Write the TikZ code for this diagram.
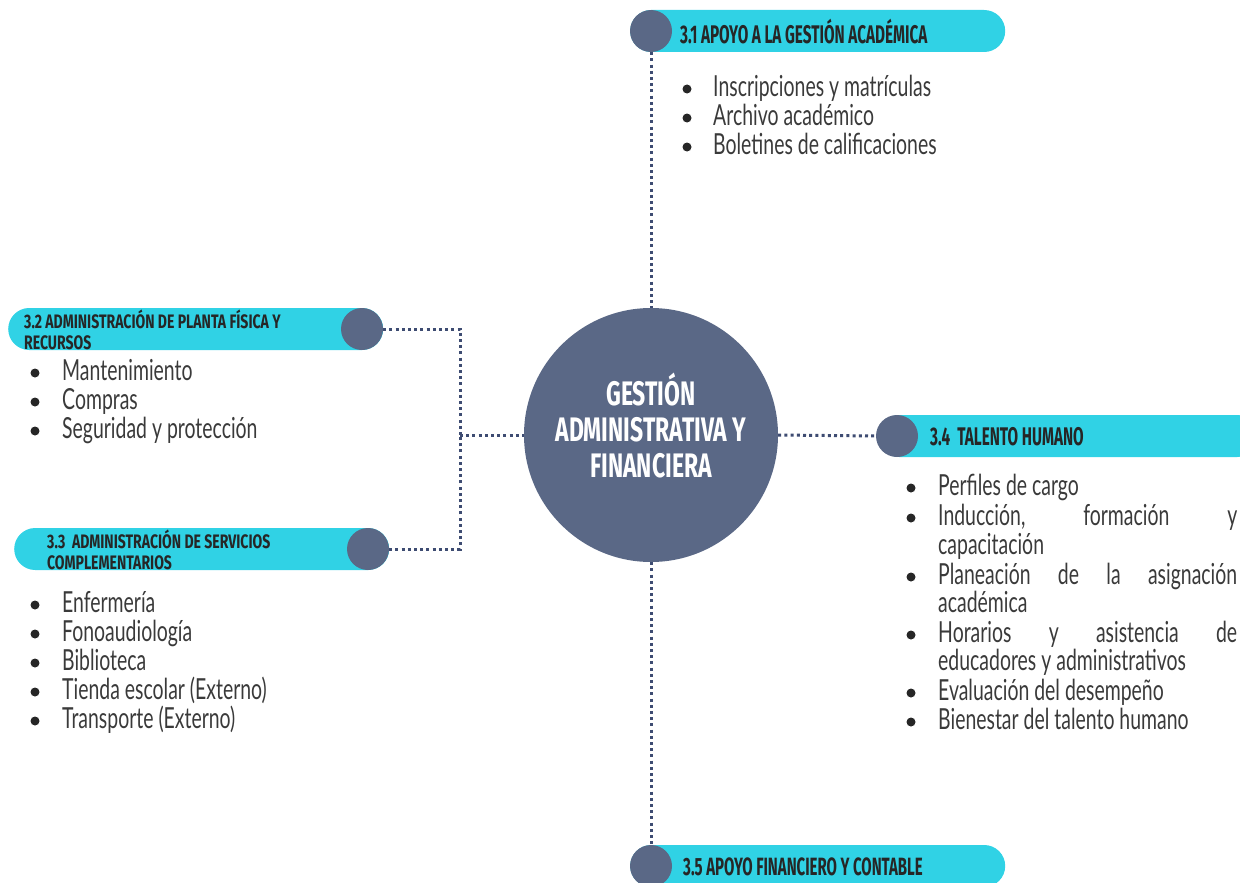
\documentclass[tikz,border=0pt]{standalone}
\usepackage{fontspec}
\setmainfont{Lato}
\newfontfamily\headfont[FakeStretch=0.60]{Fira Sans}
\newfontfamily\headtwofont[FakeStretch=0.72]{Fira Sans}
\newfontfamily\centfont[FakeStretch=0.675]{Fira Sans}
\newfontfamily\itemfont[FakeStretch=0.67]{Lato}
\definecolor{cyanb}{HTML}{30D2E5}
\definecolor{slate}{HTML}{5A6886}
\definecolor{dotc}{HTML}{3E4C72}
\definecolor{txt}{HTML}{3A3A3A}
\tikzset{
  pill/.style={fill=cyanb, rounded corners=21pt, minimum height=42pt, inner sep=0pt, anchor=west},
  knob/.style={circle, fill=slate, minimum size=42pt, inner sep=0pt},
  dots/.style={draw=dotc, line width=3pt, dash pattern=on 3pt off 3.2pt},
  head/.style={text=black!85, anchor=west, align=left, inner sep=0pt},
  headtwo/.style={head, font=\headtwofont\bfseries\fontsize{19.5}{21}\selectfont},
  item/.style={font=\itemfont\fontsize{29}{30}\selectfont, text=txt, anchor=base west, inner sep=0pt, yshift=-7.5pt},
  bul/.style={circle, fill=black!85, minimum size=9pt, inner sep=0pt}
}
\begin{document}
\begin{tikzpicture}[x=1pt,y=-1pt]
\useasboundingbox (0,0) rectangle (1240,883);
\clip (0,0) rectangle (1240,883);

% centre
\node[circle, fill=slate, minimum size=254pt, inner sep=0pt] (center) at (651,435) {};
\node[text=white, align=center, font=\centfont\bfseries\fontsize{34}{36}\selectfont] (ctext) at (651,426) {GESTIÓN\\ADMINISTRATIVA Y\\FINANCIERA};

% 3.1
\node[pill, minimum width=375pt] (p31) at (630,31) {};
\node[knob] (k31) at (651,31) {};
\node[head, font=\headfont\bfseries\fontsize{25.5}{26}\selectfont] (h31) at (680,32) {3.1 APOYO A LA GESTIÓN ACADÉMICA};
\node[bul] (b31a) at (687,89) {};
\node[bul] (b31b) at (687,118) {};
\node[bul] (b31c) at (687,147) {};
\node[item] (i31a) at (713,89) {Inscripciones y matrículas};
\node[item] (i31b) at (713,118) {Archivo académico};
\node[item] (i31c) at (713,147) {Boletines de calificaciones};

% 3.2
\node[pill, minimum width=375pt] (p32) at (8,329) {};
\node[knob] (k32) at (362,329) {};
\node[headtwo] (h32) at (24,330) {3.2 ADMINISTRACIÓN DE PLANTA FÍSICA Y\\RECURSOS};
\node[bul] (b32a) at (35,373) {};
\node[bul] (b32b) at (35,402) {};
\node[bul] (b32c) at (35,431) {};
\node[item] (i32a) at (62,373) {Mantenimiento};
\node[item] (i32b) at (62,402) {Compras};
\node[item] (i32c) at (62,431) {Seguridad y protección};

% 3.3
\node[pill, minimum width=375pt] (p33) at (14,549) {};
\node[knob] (k33) at (368,549) {};
\node[headtwo] (h33) at (47,550) {3.3\ \ ADMINISTRACIÓN DE SERVICIOS\\COMPLEMENTARIOS};
\node[bul] (b33a) at (35,605) {};
\node[bul] (b33b) at (35,634) {};
\node[bul] (b33c) at (35,663) {};
\node[bul] (b33d) at (35,692) {};
\node[bul] (b33e) at (35,721) {};
\node[item] (i33a) at (62,605) {Enfermería};
\node[item] (i33b) at (62,634) {Fonoaudiología};
\node[item] (i33c) at (62,663) {Biblioteca};
\node[item] (i33d) at (62,692) {Tienda escolar (Externo)};
\node[item] (i33e) at (62,721) {Transporte (Externo)};

% 3.4
\node[pill, minimum width=380pt] (p34) at (878,436) {};
\node[knob] (k34) at (897,436) {};
\node[head, font=\headfont\bfseries\fontsize{25.5}{26}\selectfont] (h34) at (930,437) {3.4\ \ TALENTO HUMANO};
\node[bul] (b34a) at (911,488) {};
\node[bul] (b34b) at (911,518) {};
\node[bul] (b34c) at (911,577) {};
\node[bul] (b34d) at (911,635) {};
\node[bul] (b34e) at (911,693) {};
\node[bul] (b34f) at (911,722) {};
\node[item] (i34a) at (938,488) {Perfiles de cargo};
\node[item] (i34b) at (938,518) {\hbox to 299pt{Inducción,\hfill formación\hfill y}};
\node[item] (i34b2) at (938,547) {capacitación};
\node[item] (i34c) at (938,577) {\hbox to 299pt{Planeación\hfill de\hfill la\hfill asignación}};
\node[item] (i34c2) at (938,605) {académica};
\node[item] (i34d) at (938,635) {\hbox to 299pt{Horarios\hfill y\hfill asistencia\hfill de}};
\node[item] (i34d2) at (938,663) {educadores y administrativos};
\node[item] (i34e) at (938,693) {Evaluación del desempeño};
\node[item] (i34f) at (938,722) {Bienestar del talento humano};

% 3.5
\node[pill, minimum width=375pt] (p35) at (630,866) {};
\node[knob] (k35) at (651,866) {};
\node[head, font=\headfont\bfseries\fontsize{25}{26}\selectfont] (h35) at (683,867) {3.5 APOYO FINANCIERO Y CONTABLE};

% connectors
\coordinate (j) at (460,435);
\draw[dots] (k31.south) -- (center.north);
\draw[dots] (center.south) -- (k35.north);
\draw[dots] (center.east) -- (k34.west);
\draw[dots] (k32.east) -| (j);
\draw[dots] (k33.east) -| (j);
\draw[dots] (j) -- (center.west);
\end{tikzpicture}
\end{document}
